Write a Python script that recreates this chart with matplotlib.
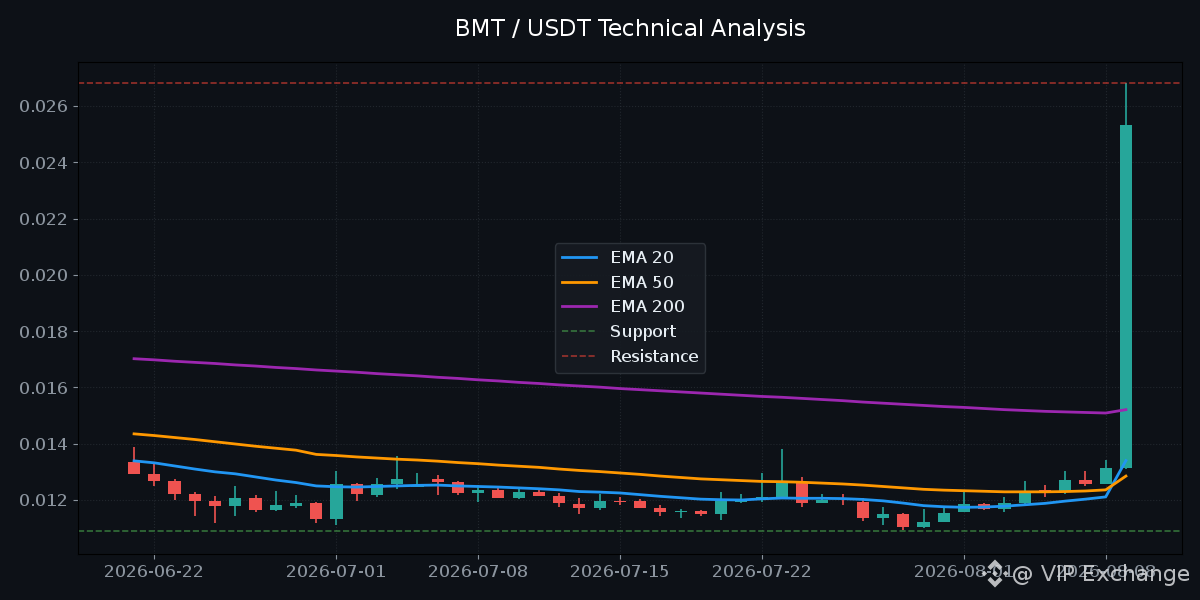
import matplotlib
matplotlib.use("Agg")
import matplotlib.pyplot as plt
import matplotlib.dates as mdates
from matplotlib.patches import Polygon
import numpy as np
import pandas as pd

plt.rcParams["text.hinting"] = "default"
plt.rcParams["text.hinting_factor"] = 1

title = "BMT / USDT Technical Analysis"
dates = pd.date_range("2026-06-21", periods=50, freq="D")
opens = [.01335,.01293,.01268,.01221,.01196,.01179,.01207,.01164,.01179,.01189,
         .01132,.01257,.01218,.01257,.01246,.01275,.01264,.01225,.01236,.01207,
         .01228,.01214,.01186,.01172,.01196,.01196,.01172,.01157,.01161,.01150,
         .01193,.01200,.01207,.01261,.01189,.01207,.01193,.01136,.01150,.01104,
         .01122,.01157,.01186,.01168,.01189,.01236,.01232,.01271,.01257,.01314]
closes = [.01293,.01268,.01221,.01196,.01179,.01207,.01164,.01182,.01189,.01132,
          .01257,.01221,.01257,.01275,.01253,.01264,.01225,.01236,.01207,.01228,
          .01214,.01189,.01172,.01196,.01193,.01172,.01157,.01161,.01150,.01196,
          .01204,.01211,.01261,.01189,.01200,.01204,.01136,.01150,.01104,.01122,
          .01154,.01186,.01168,.01189,.01228,.01232,.01271,.01257,.01314,.02531]
highs = [.01389,.01332,.01275,.01228,.01214,.01250,.01218,.01232,.01218,.01193,
         .01303,.01261,.01278,.01357,.01296,.01289,.01268,.01253,.01243,.01243,
         .01243,.01225,.01207,.01221,.01211,.01204,.01182,.01168,.01164,.01228,
         .01221,.01296,.01382,.01282,.01221,.01221,.01207,.01175,.01154,.01168,
         .01172,.01232,.01189,.01211,.01268,.01253,.01303,.01303,.01342,.02682]
lows = [.01293,.01250,.01200,.01143,.01118,.01143,.01157,.01161,.01172,.01118,
        .01111,.01196,.01211,.01239,.01246,.01218,.01218,.01193,.01207,.01204,
        .01214,.01175,.01150,.01164,.01182,.01172,.01143,.01136,.01143,.01129,
        .01189,.01193,.01204,.01175,.01189,.01182,.01125,.01111,.01093,.01100,
        .01122,.01157,.01164,.01157,.01186,.01211,.01221,.01250,.01257,.01310]
ema20 = [.01339,.01332,.01321,.01310,.01300,.01293,.01282,.01271,.01262,.01250,
         .01247,.01246,.01248,.01250,.01252,.01253,.01250,.01248,.01246,.01243,
         .01240,.01236,.01230,.01228,.01225,.01219,.01213,.01208,.01203,.01201,
         .01200,.01204,.01207,.01206,.01206,.01205,.01202,.01197,.01189,.01180,
         .01176,.01174,.01175,.01178,.01183,.01188,.01196,.01203,.01211,.01340]
ema50 = [.01435,.01429,.01422,.01415,.01407,.01399,.01391,.01384,.01377,.01362,
         .01358,.01353,.01349,.01345,.01342,.01338,.01333,.01329,.01324,.01320,
         .01316,.01310,.01305,.01301,.01296,.01291,.01285,.01280,.01275,.01272,
         .01269,.01266,.01265,.01263,.01260,.01257,.01253,.01248,.01243,.01238,
         .01235,.01233,.01231,.01229,.01229,.01229,.01230,.01232,.01236,.01285]
ema200 = [.01702,.01698,.01693,.01689,.01685,.01680,.01676,.01671,.01667,.01662,
          .01658,.01654,.01649,.01645,.01641,.01636,.01632,.01627,.01623,.01618,
          .01614,.01609,.01605,.01601,.01596,.01592,.01588,.01584,.01580,.01576,
          .01572,.01568,.01565,.01561,.01557,.01553,.01548,.01544,.01540,.01536,
          .01532,.01529,.01525,.01521,.01518,.01515,.01513,.01511,.01509,.01521]
support = 0.01090
resistance = 0.02682
x_ticks = ["2026-06-22","2026-07-01","2026-07-08","2026-07-15","2026-07-22","2026-08-01","2026-08-08"]
y_ticks = [0.012,0.014,0.016,0.018,0.020,0.022,0.024,0.026]

BG = "#0d1117"
UP, DOWN = "#26a69a", "#ef5350"

fig = plt.figure(figsize=(12, 6), dpi=100, facecolor=BG)
ax = fig.add_axes([78/1200, 1-554/600, 1104/1200, 492/600], facecolor=BG)

x = mdates.date2num(dates)
for xi, o, h, l, c in zip(x, opens, highs, lows, closes):
    col = UP if c >= o else DOWN
    ax.vlines(xi, l, h, color=col, linewidth=1.2, zorder=2)
    ax.bar(xi, abs(c-o), bottom=min(o, c), width=0.6, color=col, linewidth=0, zorder=3)

ax.plot(x, ema20, color="#2196f3", lw=2, label="EMA 20", zorder=4)
ax.plot(x, ema50, color="#ff9800", lw=2, label="EMA 50", zorder=4)
ax.plot(x, ema200, color="#9c27b0", lw=2, label="EMA 200", zorder=4)
ax.axhline(support, color="#4caf50", ls="--", lw=1.2, alpha=0.6, label="Support")
ax.axhline(resistance, color="#f44336", ls="--", lw=1.2, alpha=0.6, label="Resistance")

ax.set_xlim(x[0]-2.77, x[-1]+2.77)
ax.set_ylim(0.010081, 0.027563)
ax.set_xticks(mdates.date2num(pd.to_datetime(x_ticks)))
ax.set_xticklabels(x_ticks)
ax.set_yticks(y_ticks)
ax.set_yticklabels([f"{v:.3f}" for v in y_ticks])
ax.tick_params(colors="#8b949e", labelsize=12.2, length=3.5, width=0.8)
ax.grid(True, color="#30363d", ls=":", lw=0.8, alpha=0.6)
ax.set_axisbelow(True)
for s in ax.spines.values():
    s.set_color("black")

ax.set_title(title, color="white", fontsize=16.4, pad=19)

leg = ax.legend(loc="center", fontsize=12.4, facecolor="#161b22", edgecolor="#30363d",
                labelcolor="#e6edf3", framealpha=0.9, labelspacing=0.44)

# watermark
fig.text(1012/1200, 1-574.5/600, "@ VIP Exchange", color="#d8dadd", alpha=0.85, fontsize=16.2,
         va="center", ha="left")
cx, cy = 995/1200, 1-573.5/600
def P(pts):
    return [(cx+px/1200, cy-py/600) for px, py in pts]
logo = [
    [(0,-14),(7.5,-6.5),(4.5,-3.5),(0,-8),(-4.5,-3.5),(-7.5,-6.5)],
    [(0,14),(7.5,6.5),(4.5,3.5),(0,8),(-4.5,3.5),(-7.5,6.5)],
    [(0,-2.8),(2.8,0),(0,2.8),(-2.8,0)],
    [(-13.5,0),(-10.7,-2.8),(-7.9,0),(-10.7,2.8)],
    [(13.5,0),(10.7,-2.8),(7.9,0),(10.7,2.8)],
]
for pts in logo:
    fig.add_artist(Polygon(P(pts), closed=True, transform=fig.transFigure,
                           facecolor="#d8dadd", edgecolor="none", alpha=0.85))

fig.savefig("out.png", dpi=100, facecolor=BG)
